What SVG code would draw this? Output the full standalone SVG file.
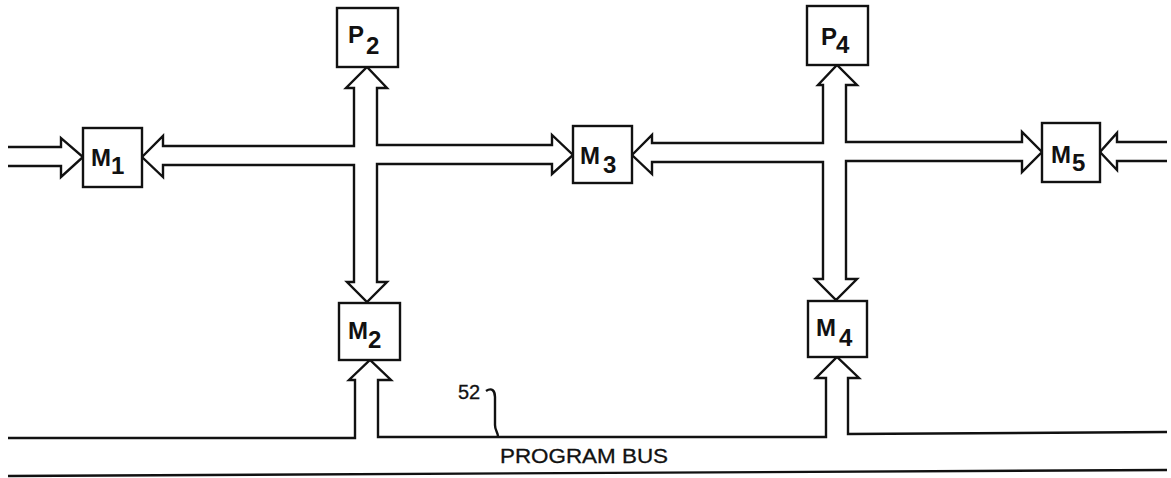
<svg xmlns="http://www.w3.org/2000/svg" width="1171" height="478" viewBox="0 0 1171 478">
<style>
.box{fill:#fff;stroke:#111;stroke-width:2.4}
.conn{fill:#fff;stroke:#111;stroke-width:2.4;stroke-linejoin:miter}
.line{fill:none;stroke:#111;stroke-width:2.4}
.lbl{font-family:"Liberation Sans",Arial,sans-serif;font-weight:bold;font-size:24px;fill:#111}
.txt{font-family:"Liberation Sans",Arial,sans-serif;font-size:20px;fill:#111;stroke:#111;stroke-width:0.3}
</style>
<rect width="1171" height="478" fill="#fff"/>
<g id="connectors">
  <path class="conn" d="M8,147 H61 V138 L83,157 L61,177 V166 H8"/>
  <path class="conn" d="M142,157 L163,136 V146 H354 V88 H346 L367,67 L387,88 H377 V145 H552 V135 L573,155 L552,174 V164 H377 V282 H387 L367,302 L347,282 H354 V165 H163 V177 Z"/>
  <path class="conn" d="M632,155 L652,135 V143 H823 V85 H818 L837,65 L857,85 H846 V142 H1022 V132 L1042,152 L1022,172 V161 H846 V279 H857 L836,300 L815,279 H823 V162 H652 V174 Z"/>
  <path class="conn" d="M1167,142 H1117 V133 L1100,152 L1117,170 V161 H1167"/>
  <path class="line" d="M8,438 H355 V380 H349 L370,360 L391,380 H378 V437 H826 V378 H816 L837,357 L859,378 H848 V434 L1167,432"/>
  <path class="line" d="M8,476 L1167,470"/>
  <path class="line" d="M486,391 C492,387 495,391 495,397 L495,425 C495,431 498,432 498,437"/>
  <text class="txt" x="458" y="399">52</text>
  <text class="txt" x="500" y="463" textLength="168" lengthAdjust="spacingAndGlyphs">PROGRAM BUS</text>
</g>
<g id="M1"><rect class="box" x="83" y="128" width="59" height="59"/><text class="lbl" x="91" y="166">M</text><text class="lbl" x="111" y="174">1</text></g>
<g id="P2"><rect class="box" x="337" y="8" width="61" height="59"/><text class="lbl" x="348" y="43">P</text><text class="lbl" x="366" y="54">2</text></g>
<g id="M3"><rect class="box" x="573" y="126" width="59" height="57"/><text class="lbl" x="580" y="164">M</text><text class="lbl" x="603" y="173">3</text></g>
<g id="P4"><rect class="box" x="807" y="6" width="61" height="59"/><text class="lbl" x="821" y="45">P</text><text class="lbl" x="836" y="53">4</text></g>
<g id="M5"><rect class="box" x="1042" y="123" width="58" height="59"/><text class="lbl" x="1051" y="163">M</text><text class="lbl" x="1072" y="171">5</text></g>
<g id="M2"><rect class="box" x="339" y="303" width="61" height="57"/><text class="lbl" x="348" y="339">M</text><text class="lbl" x="368" y="348">2</text></g>
<g id="M4"><rect class="box" x="808" y="301" width="59" height="56"/><text class="lbl" x="816" y="336">M</text><text class="lbl" x="839" y="346">4</text></g>
</svg>
